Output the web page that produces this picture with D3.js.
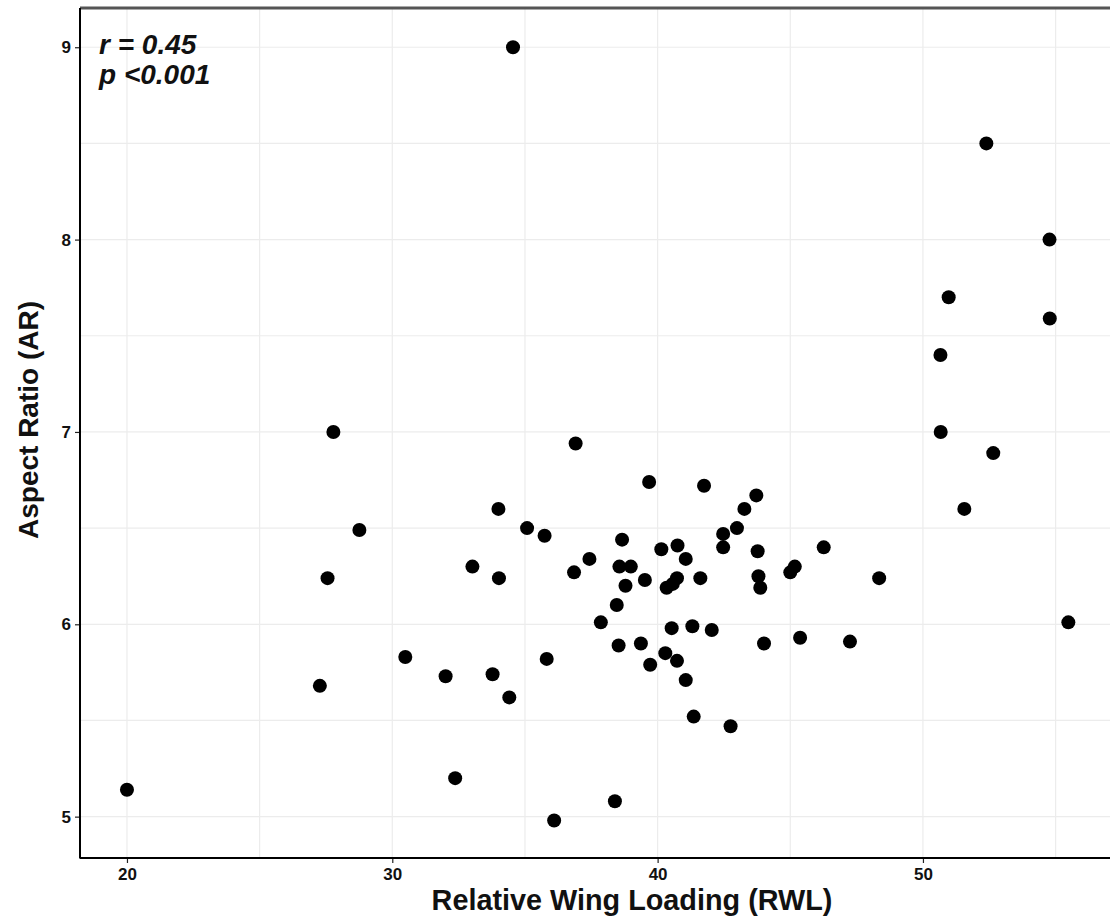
<!DOCTYPE html>
<html>
<head>
<meta charset="utf-8">
<script src="https://cdn.jsdelivr.net/npm/d3@7"></script>
<style>
  html, body { margin: 0; padding: 0; background: #fff; }
  svg { display: block; font-family: "Liberation Sans", Arial, sans-serif; }
</style>
</head>
<body>
<svg id="chart" width="1110" height="920"></svg>
<script>
// Relative wing loading (RWL) per species
const rwl = [
  20.0, 34.55, 52.39, 54.77, 50.97, 54.78, 50.66, 50.67, 52.65, 51.56,
  55.48, 41.75, 43.72, 43.27, 42.99, 42.47, 42.47, 43.77, 46.26, 41.06,
  45.17, 45.0, 41.61, 43.80, 43.87, 48.35, 41.31, 42.04, 44.01, 45.37,
  47.25, 41.06, 41.36, 42.75, 36.91, 39.68, 34.0, 35.08, 35.74, 38.66,
  40.14, 40.75, 37.43, 36.85, 38.56, 38.99, 34.02, 39.52, 40.73, 40.57,
  40.34, 38.79, 38.46, 37.86, 40.53, 38.53, 39.37, 40.29, 40.73, 39.72,
  35.82, 33.78, 34.41, 27.78, 28.76, 27.56, 33.02, 30.49, 27.27, 32.01,
  32.37, 36.10, 38.39
];
// Aspect ratio (AR) per species, same order
const aspectRatio = [
  5.14, 9.0, 8.50, 8.00, 7.70, 7.59, 7.40, 7.00, 6.89, 6.60,
  6.01, 6.72, 6.67, 6.60, 6.50, 6.47, 6.40, 6.38, 6.40, 6.34,
  6.30, 6.27, 6.24, 6.25, 6.19, 6.24, 5.99, 5.97, 5.90, 5.93,
  5.91, 5.71, 5.52, 5.47, 6.94, 6.74, 6.60, 6.50, 6.46, 6.44,
  6.39, 6.41, 6.34, 6.27, 6.30, 6.30, 6.24, 6.23, 6.24, 6.21,
  6.19, 6.20, 6.10, 6.01, 5.98, 5.89, 5.90, 5.85, 5.81, 5.79,
  5.82, 5.74, 5.62, 7.00, 6.49, 6.24, 6.30, 5.83, 5.68, 5.73,
  5.20, 4.98, 5.08
];
const xTicks = [20, 30, 40, 50];
const yTicks = [5, 6, 7, 8, 9];
const xMinor = [25, 35, 45, 55];
const yMinor = [5.5, 6.5, 7.5, 8.5];
const statsLines = ["r = 0.45", "p <0.001"];

const svg = d3.select("#chart");
const panel = { left: 80, right: 1110, top: 8, bottom: 858 };

const x = d3.scaleLinear().domain([18.23, 57.05]).range([panel.left, panel.right]);
const y = d3.scaleLinear().domain([4.785, 9.204]).range([panel.bottom, panel.top]);

// grid
const grid = svg.append("g");
grid.selectAll("line.vx").data(xTicks.concat(xMinor)).join("line")
  .attr("x1", d => x(d)).attr("x2", d => x(d))
  .attr("y1", panel.top).attr("y2", panel.bottom)
  .attr("stroke", "#ececec").attr("stroke-width", 1.2);
grid.selectAll("line.hy").data(yTicks.concat(yMinor)).join("line")
  .attr("x1", panel.left).attr("x2", panel.right)
  .attr("y1", d => y(d)).attr("y2", d => y(d))
  .attr("stroke", "#ececec").attr("stroke-width", 1.2);

// top border
svg.append("line")
  .attr("x1", panel.left).attr("x2", panel.right)
  .attr("y1", panel.top).attr("y2", panel.top)
  .attr("stroke", "#555").attr("stroke-width", 3);

// points
svg.append("g").selectAll("circle")
  .data(d3.range(rwl.length)).join("circle")
  .attr("cx", i => x(rwl[i]))
  .attr("cy", i => y(aspectRatio[i]))
  .attr("r", 7)
  .attr("fill", "#000");

// axes
const xAxis = d3.axisBottom(x).tickValues(xTicks).tickSize(5).tickPadding(5).tickFormat(d3.format("d"));
const yAxis = d3.axisLeft(y).tickValues(yTicks).tickSize(5).tickPadding(4).tickFormat(d3.format("d"));

const gx = svg.append("g").attr("transform", `translate(0,${panel.bottom})`).call(xAxis);
const gy = svg.append("g").attr("transform", `translate(${panel.left},0)`).call(yAxis);
[gx, gy].forEach(g => {
  g.select(".domain").remove();
  g.selectAll(".tick line").attr("stroke", "#222").attr("stroke-width", 1.2);
  g.selectAll(".tick text")
    .attr("fill", "#111")
    .style("font-family", "'Liberation Sans', Arial, sans-serif")
    .style("font-size", "17px")
    .style("font-weight", "bold");
});

// axis lines
svg.append("line")
  .attr("x1", panel.left).attr("x2", panel.left)
  .attr("y1", panel.top).attr("y2", panel.bottom + 0.5)
  .attr("stroke", "#000").attr("stroke-width", 2);
svg.append("line")
  .attr("x1", panel.left).attr("x2", panel.right)
  .attr("y1", panel.bottom).attr("y2", panel.bottom)
  .attr("stroke", "#000").attr("stroke-width", 2);

// axis titles
svg.append("text")
  .attr("x", 632).attr("y", 910)
  .attr("text-anchor", "middle")
  .style("font-size", "28.8px").style("font-weight", "bold")
  .attr("fill", "#111")
  .text("Relative Wing Loading (RWL)");
svg.append("text")
  .attr("transform", "translate(38,420) rotate(-90)")
  .attr("text-anchor", "middle")
  .style("font-size", "28px").style("font-weight", "bold")
  .attr("fill", "#111")
  .text("Aspect Ratio (AR)");

// correlation annotation
svg.append("g").selectAll("text").data(statsLines).join("text")
  .attr("x", 99)
  .attr("y", (d, i) => 54 + i * 30)
  .style("font-size", "28px").style("font-weight", "bold").style("font-style", "italic")
  .attr("fill", "#111")
  .text(d => d);
</script>
</body>
</html>
